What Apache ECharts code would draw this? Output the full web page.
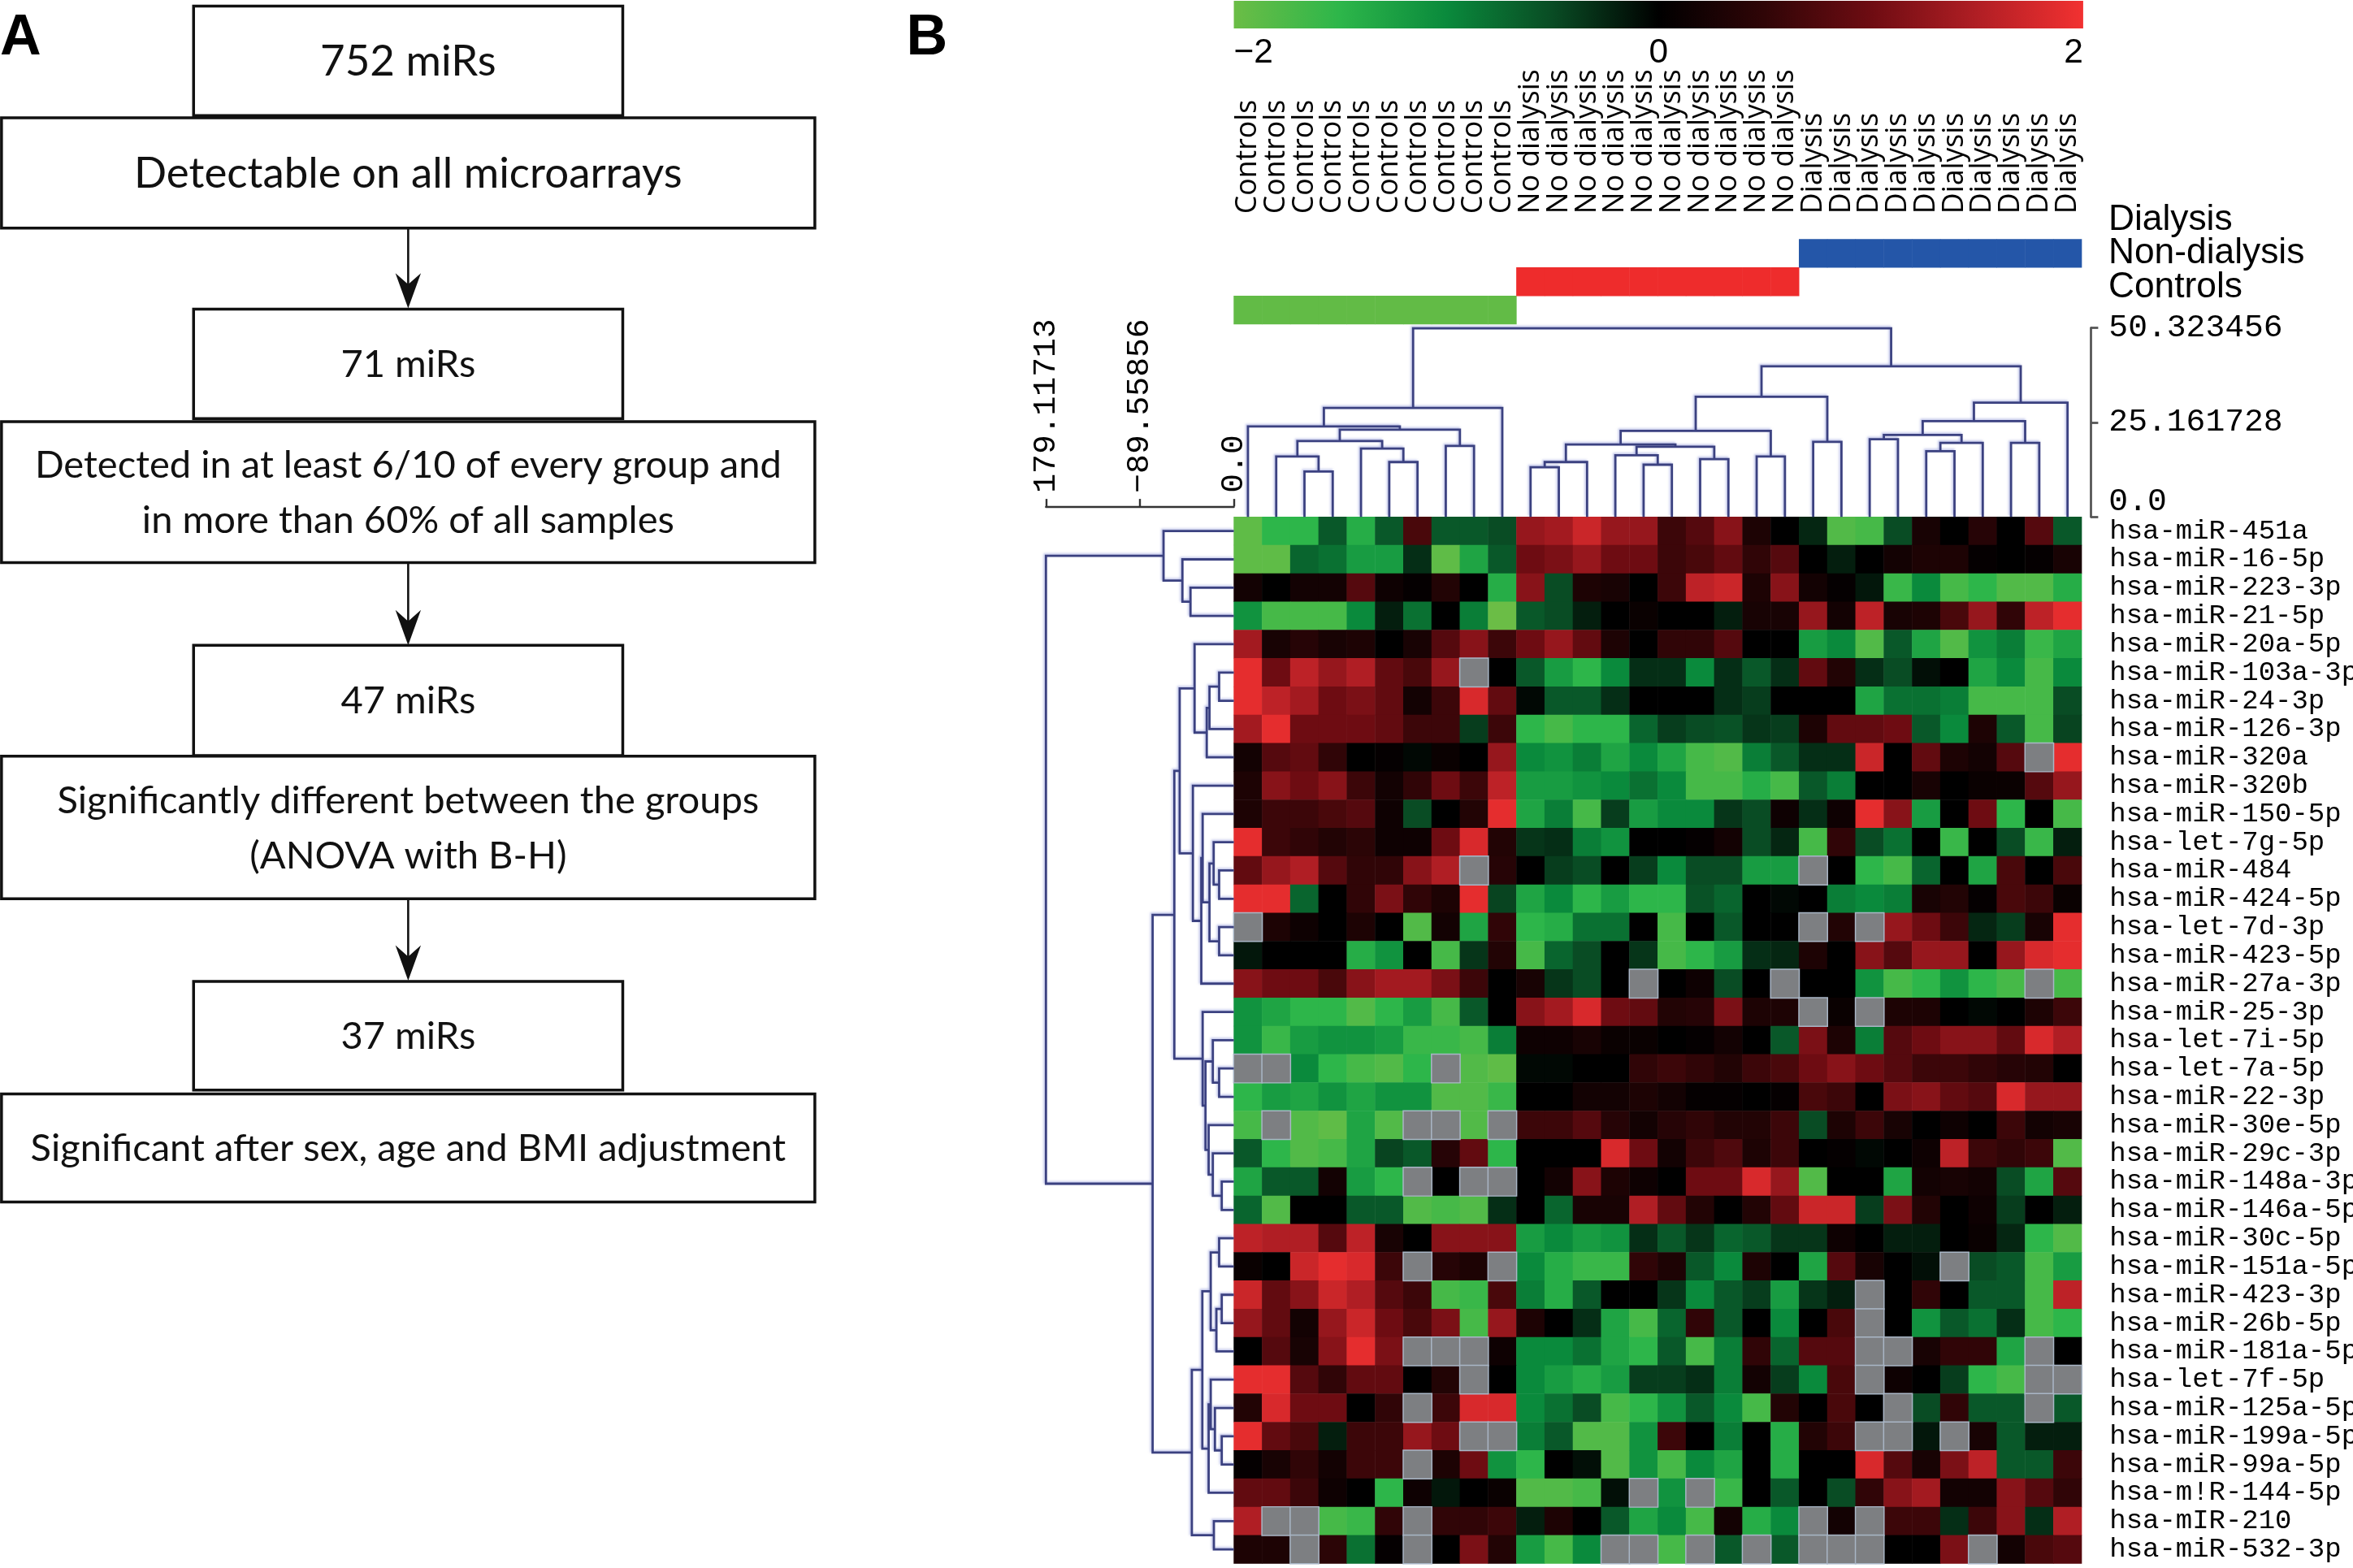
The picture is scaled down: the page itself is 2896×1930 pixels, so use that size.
<!DOCTYPE html>
<html><head><meta charset="utf-8">
<script src="https://cdn.jsdelivr.net/npm/echarts@6/dist/echarts.min.js"></script>
<style>html,body{margin:0;padding:0;background:#fff;}#c{width:2896px;height:1930px;}</style>
</head><body><div id="c"></div>
<script>
// ---------------- DATA ----------------
const rowLabels = ['hsa-miR-451a','hsa-miR-16-5p','hsa-miR-223-3p','hsa-miR-21-5p','hsa-miR-20a-5p','hsa-miR-103a-3p','hsa-miR-24-3p','hsa-miR-126-3p','hsa-miR-320a','hsa-miR-320b','hsa-miR-150-5p','hsa-let-7g-5p','hsa-miR-484','hsa-miR-424-5p','hsa-let-7d-3p','hsa-miR-423-5p','hsa-miR-27a-3p','hsa-miR-25-3p','hsa-let-7i-5p','hsa-let-7a-5p','hsa-miR-22-3p','hsa-miR-30e-5p','hsa-miR-29c-3p','hsa-miR-148a-3p','hsa-miR-146a-5p','hsa-miR-30c-5p','hsa-miR-151a-5p','hsa-miR-423-3p','hsa-miR-26b-5p','hsa-miR-181a-5p','hsa-let-7f-5p','hsa-miR-125a-5p','hsa-miR-199a-5p','hsa-miR-99a-5p','hsa-m!R-144-5p','hsa-mIR-210','hsa-miR-532-3p'];
const groupNames = ['Controls','Non-dialysis','Dialysis'];
const sampleLabels = ['Controls','Controls','Controls','Controls','Controls','Controls','Controls','Controls','Controls','Controls',
  'No dialysis','No dialysis','No dialysis','No dialysis','No dialysis','No dialysis','No dialysis','No dialysis','No dialysis','No dialysis',
  'Dialysis','Dialysis','Dialysis','Dialysis','Dialysis','Dialysis','Dialysis','Dialysis','Dialysis','Dialysis'];
const sampleGroups = [0,0,0,0,0,0,0,0,0,0, 1,1,1,1,1,1,1,1,1,1, 2,2,2,2,2,2,2,2,2,2];
const colorbarTicks = ['−2','0','2'];
const rowTreeTicks = ['0.0','−89.55856','179.11713'];
const colTreeTicks = ['0.0','25.161728','50.323456'];
const flowTexts = ['752 miRs','Detectable on all microarrays','71 miRs','Detected in at least 6/10 of every group and\nin more than 60% of all samples','47 miRs','Significantly different between the groups\n(ANOVA with B-H)','37 miRs','Significant after sex, age and BMI adjustment'];

// expression z-scores (rows = miRs, columns = samples; null = missing)
const expr = [
 [-1.9,-1.5,-1.5,-0.6,-1.4,-0.6,0.7,-0.6,-0.6,-0.5, 1.3,1.4,1.7,1.3,1.3,0.6,0.8,1.2,0.3,0, -0.25,-1.8,-1.7,-0.5,0.25,0,0.4,0,0.8,-0.6],
 [-1.9,-1.9,-0.7,-0.8,-1.2,-1.2,-0.3,-1.9,-1.3,-0.6, 1.0,1.1,1.3,1.0,1.0,0.6,0.7,0.9,0.5,0.8, 0,-0.2,0,0.2,0.3,0.3,0.05,0,0.05,0.25],
 [0.2,0,0.2,0.2,0.8,0.15,0.05,0.35,0,-1.4, 1.2,-0.5,0.3,0.25,0,0.6,1.6,1.7,0.3,1.2, 0.2,0.05,-0.15,-1.6,-1.0,-1.7,-1.5,-1.8,-1.8,-1.4],
 [-1.1,-1.7,-1.7,-1.7,-1.0,-0.2,-0.8,0,-0.9,-2.0, -0.6,-0.5,-0.2,0,0.1,0,0,-0.2,0.25,0.25, 1.3,0.2,1.6,0.25,0.3,0.7,1.3,0.5,1.6,1.9],
 [1.4,0.25,0.4,0.25,0.3,0,0.25,0.8,1.2,0.6, 1.0,1.3,0.9,0.3,0,0.5,0.5,0.8,0,0, -1.2,-1.0,-1.8,-0.6,-1.3,-1.8,-1.1,-0.9,-1.6,-1.3],
 [1.9,1.0,1.6,1.3,1.5,0.9,0.7,1.3,null,0, -0.6,-1.2,-1.5,-1.0,-0.3,-0.3,-1.0,-0.3,-0.6,-0.3, 0.9,0.35,-0.3,-0.5,-0.1,0,-1.3,-1.0,-1.7,-1.0],
 [1.9,1.6,1.4,1.0,1.1,0.9,0.2,0.6,1.8,0.9, -0.05,-0.6,-0.6,-0.3,0,0,0,-0.3,-0.4,0, 0,0,-1.3,-0.8,-0.8,-0.9,-1.7,-1.7,-1.7,-0.5],
 [1.4,1.9,1.0,1.0,1.0,0.9,0.6,0.6,-0.4,0.6, -1.5,-1.7,-1.5,-1.5,-0.7,-0.4,-0.5,-0.55,-0.35,-0.4, 0.3,0.9,0.9,1.0,-0.6,-1.0,0.3,-0.6,-1.7,-0.45],
 [0.2,0.8,0.9,0.5,0,0.05,-0.05,0.1,0,1.3, -1.0,-1.1,-0.9,-1.3,-1.0,-1.3,-1.7,-1.8,-0.9,-0.6, -0.3,-0.3,1.7,0,0.9,0.3,0.2,0.8,null,1.9],
 [0.3,1.2,1.0,1.2,0.6,0.2,0.5,1.0,0.6,1.6, -1.2,-1.2,-1.1,-1.0,-0.8,-1.0,-1.7,-1.7,-1.4,-1.7, -0.6,-0.9,0,0,0.25,0,0.1,0.1,0.8,1.3],
 [0.3,0.6,0.6,0.7,0.8,0.15,-0.5,0,0.35,1.9, -1.3,-0.9,-1.7,-0.4,-1.2,-1.0,-1.0,-0.35,-0.5,0.15, -0.3,0.15,1.9,1.2,-1.2,0,1.0,-1.5,0,-1.7],
 [1.9,0.6,0.5,0.35,0.45,0.15,0.15,1.0,1.8,0.35, -0.35,-0.3,-0.9,-1.1,0,0,0.05,0.2,-0.5,-0.25, -1.7,0.5,-0.5,-0.8,0,-1.6,0,-0.5,-1.6,-0.2],
 [0.9,1.3,1.5,0.8,0.5,0.5,1.2,1.5,null,0.4, 0,-0.4,-0.5,0,-0.4,-1.0,-0.5,-0.5,-1.2,-1.2, null,0,-1.5,-1.7,-0.7,0,-1.3,0.7,0,0.7],
 [1.9,1.9,-0.7,0,0.5,1.1,0.5,0.3,1.9,-0.45, -1.3,-1.0,-1.5,-1.2,-1.5,-1.5,-0.55,-0.7,0,-0.05, 0,-0.9,-1.0,-0.9,0.25,0.35,0.05,0.7,0.6,0.1],
 [null,0.3,0.15,0,0.3,0,-1.8,0.2,-1.3,0.5, -1.5,-1.4,-0.8,-0.8,0,-1.7,0,-0.6,0,0, null,0.35,null,1.3,1.0,0.6,-0.25,-0.4,0.25,1.9],
 [-0.15,0,0,0,-1.4,-1.1,0,-1.7,-0.35,0.35, -1.7,-0.7,-0.5,0,-0.35,-1.7,-1.5,-1.2,-0.3,-0.25, 0.3,0,1.2,0.8,1.3,1.3,0,1.3,1.8,1.9],
 [1.2,1.0,1.0,0.7,1.2,1.4,1.4,1.1,0.6,0, 0.25,-0.35,-0.5,0,null,0,0.15,-0.5,0,null, 0,0,-1.1,-1.7,-1.5,-1.1,-1.5,-1.7,null,-1.7],
 [-1.1,-1.3,-1.5,-1.5,-1.8,-1.5,-1.2,-1.7,-0.6,0, 1.2,1.4,1.8,1.0,0.9,0.35,0.4,1.1,0.3,0.3, null,0.1,null,0.3,0.3,0,-0.05,0,0.3,0.6],
 [-1.1,-1.6,-1.2,-1.1,-1.1,-1.2,-1.6,-1.6,-1.7,-0.9, 0.15,0.15,0.25,0.1,0.1,0,0.05,0.2,0,-0.6, 1.1,0.3,-0.9,0.8,1.0,1.2,1.2,0.9,1.8,1.5],
 [null,null,-1.0,-1.5,-1.7,-1.8,-1.5,null,-1.8,-1.9, -0.05,-0.05,0,0,0.5,0.6,0.5,0.35,0.6,0.7, 1.0,1.2,1.0,0.8,0.6,0.6,0.5,0.4,0.35,0],
 [-1.5,-1.2,-1.3,-1.1,-1.3,-1.1,-1.1,-1.8,-1.8,-1.6, 0,0,0.2,0.2,0.3,0.2,0.05,0.05,0,0.05, 0.7,0.6,0,1.1,1.2,0.9,0.8,1.8,1.3,1.3],
 [-1.7,null,-1.8,-1.9,-1.3,-1.8,null,null,-1.8,null, 0.6,0.6,0.8,0.4,0.2,0.4,0.5,0.35,0.35,0.6, -0.5,0.3,0.6,0.25,0,0.15,0,0.6,0.2,0.25],
 [-0.6,-1.5,-1.8,-1.7,-1.3,-0.45,-0.6,0.4,0.9,-1.5, 0,0,0,1.8,1.0,0.2,0.6,0.75,0.3,0.6, 0,0.05,-0.05,0,0.15,1.6,0.6,0.5,0.6,-1.8],
 [-1.3,-0.6,-0.6,0.2,-1.2,-1.5,null,0,null,null, 0,0.2,1.2,0.3,0.15,0,1.0,1.0,1.8,1.3, -1.8,0,0,-1.3,0.2,0.25,0.2,-0.5,-1.3,0.8],
 [-0.7,-1.8,0,0,-0.6,-0.6,-1.8,-1.7,-1.8,-0.3, 0,-0.7,0.25,0.25,1.5,0.9,0.35,0,0.35,0.9, 1.7,1.7,-0.4,1.1,0.35,0,0.15,-0.4,0,-0.2],
 [1.6,1.5,1.5,0.8,1.6,0.25,0,1.2,1.2,1.2, -1.2,-1.0,-1.2,-1.1,-0.3,-0.6,-0.35,-0.7,-0.6,-0.35, -0.35,0.15,0,-0.2,-0.2,0,0.1,-0.25,-1.5,-1.8],
 [0.1,0,1.7,1.9,1.8,0.6,null,0.4,0.3,null, -1.0,-1.4,-1.6,-1.6,0.5,0.3,-0.6,-1.0,0.3,0, -1.3,0.8,0.25,0,-0.1,null,-0.5,-0.6,-1.7,-1.2],
 [1.7,0.9,1.2,1.7,1.5,0.8,0.6,-1.7,-1.6,0.7, -0.9,-1.4,-0.6,0,0,-0.35,-1.0,-0.6,-0.4,-1.2, -0.35,-0.2,null,0,0.5,0,-0.6,-0.6,-1.7,1.6],
 [1.3,0.9,0.2,1.3,1.7,1.0,0.7,1.1,-1.7,1.3, 0.3,0,-0.3,-1.3,-1.7,-0.7,0.5,-0.6,0,-1.0, 0,0.7,null,0,-1.1,-0.6,-0.8,-0.3,-1.7,-1.5],
 [0,0.8,0.25,1.2,1.9,1.1,null,null,null,0.15, -1.0,-1.0,-0.8,-1.3,-1.5,-0.6,-1.7,-0.9,0.5,-0.7, 0.8,0.8,null,null,0.25,0.5,0.5,-1.3,null,0],
 [1.9,1.9,0.8,0.5,0.9,0.9,0,0.35,null,0, -1.0,-1.2,-1.4,-1.2,-0.4,-0.4,-0.3,-0.9,0.2,-0.4, -1.0,0.7,null,0.15,0,-0.4,-1.5,-1.7,null,null],
 [0.35,1.8,1.0,1.0,0,0.5,null,0.6,1.8,1.8, -1.0,-0.8,-0.5,-1.7,-1.5,-1.1,-0.6,-1.0,-1.7,0.35, 0,0.7,0,null,-0.5,0.5,-0.6,-0.6,null,-0.6],
 [1.9,0.9,0.7,-0.2,0.6,0.6,1.3,1.0,null,null, -0.9,-0.6,-1.8,-1.8,-1.1,0.6,0,-0.9,0,-1.4, 0.35,0.6,null,null,-0.15,null,0.25,-0.6,-0.2,-0.2],
 [0.05,0.25,0.5,0.2,0.6,0.6,null,0.3,1.0,-1.1, -1.5,0,-0.1,-1.8,-1.1,-1.7,-1.0,-1.3,0,-1.4, 0,0,1.8,0.8,0.25,1.1,1.6,-0.6,-0.6,0.6],
 [0.9,0.9,0.6,0.15,0,-1.5,0.15,-0.15,0,0.1, -1.8,-1.8,-1.7,-0.1,null,-1.1,null,-1.6,0,-0.6, 0,-0.5,0.5,1.2,1.4,0.2,0.2,1.2,0.8,0.5],
 [1.5,null,null,-1.7,-1.6,0.5,null,0.5,0.5,0.6, -0.2,0.3,0,-0.6,-1.3,-1.0,-1.7,0.2,-1.4,-1.0, null,0.2,null,0.6,0.6,-0.3,0.6,1.2,-0.3,1.5],
 [0.3,0.3,null,0.45,-0.8,0.05,null,0,1.1,0.35, -1.2,-1.7,-1.0,null,null,-1.7,null,-0.6,null,-0.6, null,null,null,0,0,1.1,null,0.2,0.7,0.8]
];

// dendrograms: [left, right, mergeHeight]; leaves are row / column indices
const rowTree = [
  [0, [1, [2, 3, 41.3], 49.0], 67.0],
  [
    [
      [[4, [[[5, 6, 14], 7, 23.2], 8, 25.8], 37.4],
       [9, [[10, [[11, [12, 13, 14], 19.2], [14, 15, 14], 23.2], 29.7], 16, 31], 39], 51.6],
      [17, [[18, [19, 20, 14], 20], [21, [22, [23, 24, 11.5], 20], 24], 27], 29.7],
      56.7],
    [
      [[[25, 26, 14], [[27, 28, 11.5], 29, 16.6], 22], [[30, [31, [32, 33, 11.5], 18], 22], 34, 24], 30],
      [35, 36, 19], 40],
    77.4],
  179.11713];
const colTree = [
  [[0, [[[1, [2, 3, 12.1], 16.1], [4, [5, 6, 14.6], 18.2], 20.2], [7, 8, 18.9], 23.2], 24.1], 9, 29],
  [
    [[[[[10, 11, 13.2], 12, 14.6], [[13, [14, 15, 13.9], 16.4], [16, 17, 15.4], 18.7], 19.3], [18, 19, 16.1], 22.9], [20, 21, 20], 32],
    [[[[22, 23, 20.7], [[24, 25, 17.5], 26, 19.7], 21.8], [27, 28, 19.7], 25.5], 29, 30.4],
    40.1],
  50.2];

// ---------------- STYLE / LAYOUT ----------------
const S = 2896 / 1568;
const px = v => v * S;
const colorRamp = ['#6bbd46','#2db64a','#0a8a3c','#094c24','#000000','#300507','#6e0c12','#b01e24','#f23131'];
const groupColors = ['#62bb46','#ee2c2c','#2456a8'];
const dendroColor = '#3b4180';

function hasFont(name) {
  const ctx = document.createElement('canvas').getContext('2d');
  const t = 'Controls No dialysis mmwwii 0123';
  for (const base of ['monospace', 'serif']) {
    ctx.font = '40px ' + base; const w0 = ctx.measureText(t).width;
    ctx.font = '40px "' + name + '", ' + base; const w1 = ctx.measureText(t).width;
    if (Math.abs(w0 - w1) > 0.5) return true;
  }
  return false;
}
const flowFont = hasFont('Lato') ? 'Lato' : '"Open Sans"';
const colFont = hasFont('Open Sans') ? '"Open Sans"' : '"Noto Sans", sans-serif';
const mono = '"Liberation Mono", "DejaVu Sans Mono", monospace';
const sans = '"Liberation Sans", Arial, sans-serif';

// dendrogram segments computed from the trees
function buildSegments(tree) {
  const segs = [];
  (function walk(n) {
    if (typeof n === 'number') return { p: n, h: 0 };
    const a = walk(n[0]), b = walk(n[1]);
    segs.push([a.p, a.h, b.p, b.h, n[2]]);
    return { p: (a.p + b.p) / 2, h: n[2] };
  })(tree);
  return segs;
}
const colSegs = buildSegments(colTree);
const rowSegs = buildSegments(rowTree);

const heatData = [], missingData = [];
expr.forEach((row, r) => row.forEach((v, c) => {
  if (v === null) missingData.push([c, r, 1]); else heatData.push([c, r, v]);
}));
const groupData = sampleGroups.map((g, c) => [c, g, g]);

function dendroRender(vertical) {
  return function (params, api) {
    const p1 = api.value(0), h1 = api.value(1), p2 = api.value(2), h2 = api.value(3), h = api.value(4);
    const pt = (p, hh) => vertical ? api.coord([p, hh]) : api.coord([hh, p]);
    return {
      type: 'polyline',
      shape: { points: [pt(p1, h1), pt(p1, h), pt(p2, h), pt(p2, h2)] },
      style: { stroke: dendroColor, lineWidth: px(1.5), fill: null,
               shadowColor: 'rgba(120,130,210,0.5)', shadowBlur: px(1.5), shadowOffsetX: -px(0.8), shadowOffsetY: -px(0.8) }
    };
  };
}

// flowchart layout (display units)
const flowBoxLayout = [[129,4,286,73],[1,78.5,542,73.5],[129,206,286,73],[1,281,542,94],[129,430,286,73.5],[1,504,542,95],[129,654,286,72.5],[1,729,542,72]];
const flowFontSizes = [28.6, 28.6, 25.5, 25.5, 25.5, 25.5, 25.5, 25.5];
const flowArrowLayout = [[272,152,205.5],[272,375,430],[272,599,653.5]];
const graphics = [];
flowBoxLayout.forEach((b) => {
  graphics.push({ type: 'rect', shape: { x: px(b[0]), y: px(b[1]), width: px(b[2]), height: px(b[3]) },
    style: { fill: '#fff', stroke: '#111', lineWidth: px(1.9) }, z: 1 });
});
flowBoxLayout.forEach((b, i) => {
  graphics.push({ type: 'text', x: px(b[0] + b[2] / 2), y: px(b[1] + b[3] / 2 + 0.5), z: 3,
    style: { text: flowTexts[i], fill: '#111', fontFamily: flowFont, fontSize: px(flowFontSizes[i]), lineHeight: px(37),
             align: 'center', verticalAlign: 'middle' } });
});
flowArrowLayout.forEach(a => {
  graphics.push({ type: 'line', shape: { x1: px(a[0]), y1: px(a[1]), x2: px(a[0]), y2: px(a[2] - 10) },
    style: { stroke: '#111', lineWidth: px(1.4) }, z: 2 });
  graphics.push({ type: 'polygon', shape: { points: [[px(a[0]), px(a[2])], [px(a[0] - 8.5), px(a[2] - 23.5)], [px(a[0]), px(a[2] - 16)], [px(a[0] + 8.5), px(a[2] - 23.5)]] },
    style: { fill: '#111' }, z: 2 });
});
graphics.push({ type: 'text', x: 0, y: px(26), z: 3, style: { text: 'A', fill: '#000', fontFamily: sans, fontWeight: 'bold', fontSize: px(38), align: 'left', verticalAlign: 'middle' } });
graphics.push({ type: 'text', x: px(604), y: px(26), z: 3, style: { text: 'B', fill: '#000', fontFamily: sans, fontWeight: 'bold', fontSize: px(38), align: 'left', verticalAlign: 'middle' } });

const HM = { left: 822.2, top: 344.5, width: 565, height: 697.5 };

const option = {
  animation: false,
  backgroundColor: '#fff',
  textStyle: { fontFamily: sans, color: '#000' },
  graphic: { elements: graphics },
  grid: [
    { left: px(HM.left), top: px(HM.top), width: px(HM.width), height: px(HM.height), outerBoundsMode: 'none' },
    { left: px(HM.left), top: px(218.5), width: px(HM.width), height: px(HM.top - 218.5), outerBoundsMode: 'none' },
    { left: px(697), top: px(HM.top), width: px(HM.left - 697), height: px(HM.height), outerBoundsMode: 'none' },
    { left: px(HM.left), top: px(159.5), width: px(HM.width), height: px(56.5), outerBoundsMode: 'none' },
    { left: px(1397), top: px(135.25), width: px(1), height: px(67.5), outerBoundsMode: 'none' },
    { left: px(HM.left), top: px(0.5), width: px(566), height: px(18.5), outerBoundsMode: 'none' }
  ],
  xAxis: [
    { type: 'category', gridIndex: 0, data: sampleLabels, show: false },
    { type: 'value', gridIndex: 1, min: -0.5, max: 29.5, show: false },
    { type: 'value', gridIndex: 2, min: 0, max: 179.11713, interval: 89.558565, inverse: true, position: 'top', offset: px(7),
      axisLine: { show: true, onZero: false, lineStyle: { color: '#333', width: px(1.3) } },
      axisTick: { show: true, length: px(5), lineStyle: { color: '#333', width: px(1.3) } },
      splitLine: { show: false },
      axisLabel: { rotate: -90, margin: px(9), color: '#000', fontFamily: mono, fontSize: px(21.5), showMinLabel: true, showMaxLabel: true,
        formatter: (v, i) => rowTreeTicks[i] } },
    { type: 'category', gridIndex: 3, data: sampleLabels, position: 'top',
      axisLine: { show: false }, axisTick: { show: false },
      axisLabel: { interval: 0, rotate: -90, margin: px(17), color: '#000', fontFamily: colFont, fontSize: px(19.3) } },
    { type: 'value', gridIndex: 4, min: 0, max: 1, show: false },
    { type: 'value', gridIndex: 5, min: -2, max: 2, interval: 2, position: 'bottom',
      axisLine: { show: false }, axisTick: { show: false }, splitLine: { show: false },
      axisLabel: { margin: px(5), color: '#000', fontFamily: sans, fontSize: px(23), showMinLabel: true, showMaxLabel: true,
        alignMinLabel: 'left', alignMaxLabel: 'right', formatter: (v, i) => colorbarTicks[i] } }
  ],
  yAxis: [
    { type: 'category', gridIndex: 0, data: rowLabels, inverse: true, position: 'right',
      axisLine: { show: false }, axisTick: { show: false },
      axisLabel: { interval: 0, margin: px(18.5), color: '#000', fontFamily: mono, fontSize: px(18.4) } },
    { type: 'value', gridIndex: 1, min: 0, max: 50.323456, interval: 25.161728, position: 'right', offset: px(6),
      axisLine: { show: true, onZero: false, lineStyle: { color: '#555', width: px(1.5) } },
      axisTick: { show: true, length: px(5), lineStyle: { color: '#555', width: px(1.5) } },
      splitLine: { show: false },
      axisLabel: { margin: px(12), color: '#000', fontFamily: mono, fontSize: px(21.5), showMinLabel: true, showMaxLabel: true,
        formatter: (v, i) => i === 0 ? '{z|' + colTreeTicks[0] + '}' : colTreeTicks[i],
        rich: { z: { fontFamily: mono, fontSize: px(21.5), color: '#000', padding: [0, 0, px(20), 0] } } } },
    { type: 'value', gridIndex: 2, min: -0.5, max: 36.5, inverse: true, show: false },
    { type: 'category', gridIndex: 3, data: groupNames, show: false },
    { type: 'category', gridIndex: 4, data: groupNames, position: 'right',
      axisLine: { show: false }, axisTick: { show: false },
      axisLabel: { interval: 0, margin: px(7), color: '#000', fontFamily: sans, fontSize: px(24) } },
    { type: 'value', gridIndex: 5, min: 0, max: 1, show: false }
  ],
  visualMap: [
    { type: 'continuous', min: -2, max: 2, seriesIndex: 0, show: false, dimension: 2, inRange: { color: colorRamp } },
    { type: 'piecewise', seriesIndex: 4, show: false, dimension: 2,
      pieces: groupColors.map((c, i) => ({ value: i, color: c })) }
  ],
  series: [
    { type: 'heatmap', xAxisIndex: 0, yAxisIndex: 0, data: heatData, itemStyle: { borderWidth: 0 }, emphasis: { disabled: true } },
    { type: 'heatmap', xAxisIndex: 0, yAxisIndex: 0, data: missingData,
      itemStyle: { color: '#7d7f82', borderColor: '#a9b6c6', borderWidth: px(0.8) }, emphasis: { disabled: true } },
    { type: 'custom', xAxisIndex: 1, yAxisIndex: 1, data: colSegs, renderItem: dendroRender(true), silent: true },
    { type: 'custom', xAxisIndex: 2, yAxisIndex: 2, data: rowSegs, renderItem: dendroRender(false), silent: true },
    { type: 'heatmap', xAxisIndex: 3, yAxisIndex: 3, data: groupData, emphasis: { disabled: true } },
    { type: 'custom', xAxisIndex: 5, yAxisIndex: 5, data: [[-2, 2]], silent: true,
      renderItem: (params, api) => {
        const a = api.coord([api.value(0), 1]), b = api.coord([api.value(1), 0]);
        return { type: 'rect', shape: { x: a[0], y: a[1], width: b[0] - a[0], height: b[1] - a[1] },
          style: { fill: { type: 'linear', x: 0, y: 0, x2: 1, y2: 0,
            colorStops: colorRamp.map((c, i) => ({ offset: i / (colorRamp.length - 1), color: c })) } } };
      } }
  ]
};

const chart = echarts.init(document.getElementById('c'), null, { renderer: 'canvas' });
chart.setOption(option);
</script>
</body></html>
